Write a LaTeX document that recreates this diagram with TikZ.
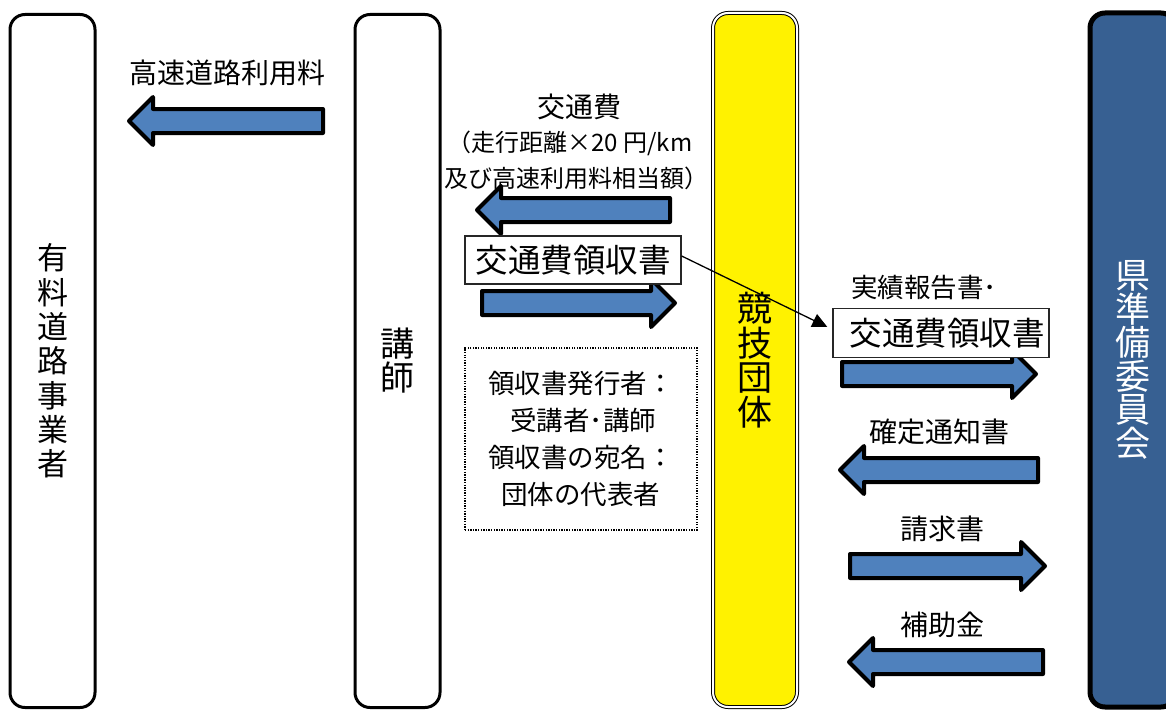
\documentclass[tikz,border=0pt]{standalone}
\usepackage{fontspec}
\setmainfont{Noto Sans CJK JP}
\usetikzlibrary{arrows.meta}
\definecolor{laneblue}{HTML}{376092}
\definecolor{arrblue}{HTML}{4F81BD}
\newcommand\fs[2]{\fontsize{#1}{#2}\selectfont}
\newcommand\blockR[3]{\draw[blockarr] (#1,#3-12) -- (#2-24,#3-12) -- (#2-24,#3-24) -- (#2,#3) -- (#2-24,#3+24) -- (#2-24,#3+12) -- (#1,#3+12) -- cycle;}
\newcommand\blockL[3]{\draw[blockarr] (#1,#3-12) -- (#2+24,#3-12) -- (#2+24,#3-24) -- (#2,#3) -- (#2+24,#3+24) -- (#2+24,#3+12) -- (#1,#3+12) -- cycle;}
\begin{document}
\begin{tikzpicture}[x=1pt,y=-1pt,
  lane/.style={draw, line width=3pt, rounded corners=15pt, minimum width=85pt, minimum height=693pt, inner sep=0pt, align=center},
  blockarr/.style={draw=black, fill=arrblue, line width=4pt, line join=round},
  receipt/.style={draw=black!85, line width=1.3pt, minimum width=216pt, minimum height=48pt, inner sep=0pt, fill=white, font=\fs{32.5}{36}},
  lbl/.style={inner sep=0pt, font=\fs{28}{32}},
  thinarr/.style={line width=1.3pt, -{Triangle[length=15pt,width=14pt]}}]
\useasboundingbox (0,0) rectangle (1166,709);
% lanes
\node[lane, font=\fs{31}{34.3}] (road) at (52.5,361) {有\\料\\道\\路\\事\\業\\者};
\node[lane, font=\fs{34}{34}] (lect) at (397.5,361) {講\\師};
\node[lane, line width=1pt, double=white, double distance=2pt, fill=yellow, minimum width=84pt, minimum height=694pt, font=\fs{35}{34.5}] (club) at (755,360) {競\\技\\団\\体};
\node[lane, line width=5pt, fill=laneblue, text=white, minimum width=86pt, minimum height=694pt, font=\fs{35}{33.5}] (pref) at (1133,360) {県\\準\\備\\委\\員\\会};
% labels
\node[lbl] (hwy) at (227,73) {高速道路利用料};
\node[lbl] (fee1) at (579,107) {交通費};
\node[lbl, font=\fs{24}{28}] (fee2) at (570,143) {（走行距離×20 円/km};
\node[lbl, font=\fs{24}{28}] (fee3) at (576,178) {及び高速利用料相当額）};
\node[lbl, font=\fs{26.5}{30}, anchor=west] (rep) at (851,288) {実績報告書･};
\node[lbl] (conf) at (939,432) {確定通知書};
\node[lbl] (bill) at (942,529) {請求書};
\node[lbl] (subs) at (942,625) {補助金};
% arrows
\blockL{323}{129}{121}
\blockL{670}{477}{210}
\blockR{482}{675}{303}
\blockR{842}{1036}{374}
\blockL{1038}{840}{470}
\blockR{850}{1045}{566}
\blockL{1043}{849}{662}
% receipts
\node[receipt] (rb1) at (573,260) {交通費領収書};
\node[receipt, minimum height=49pt] (rb2) at (941,333) {\hspace*{12pt}交通費領収書};
\draw[thinarr] ([yshift=4pt]rb1.east) -- ([xshift=-5pt,yshift=6pt]rb2.west);
% note box
\node[draw, line width=1.2pt, dash pattern=on 1.3pt off 1.3pt, minimum width=232pt, minimum height=182pt, align=left, inner sep=0pt, font=\fs{26.5}{37}] (note) at (581,439)
  {領収書発行者：\\\hspace*{22pt}受講者･講師\\領収書の宛名：\\\hspace*{13pt}団体の代表者};
\end{tikzpicture}
\end{document}
